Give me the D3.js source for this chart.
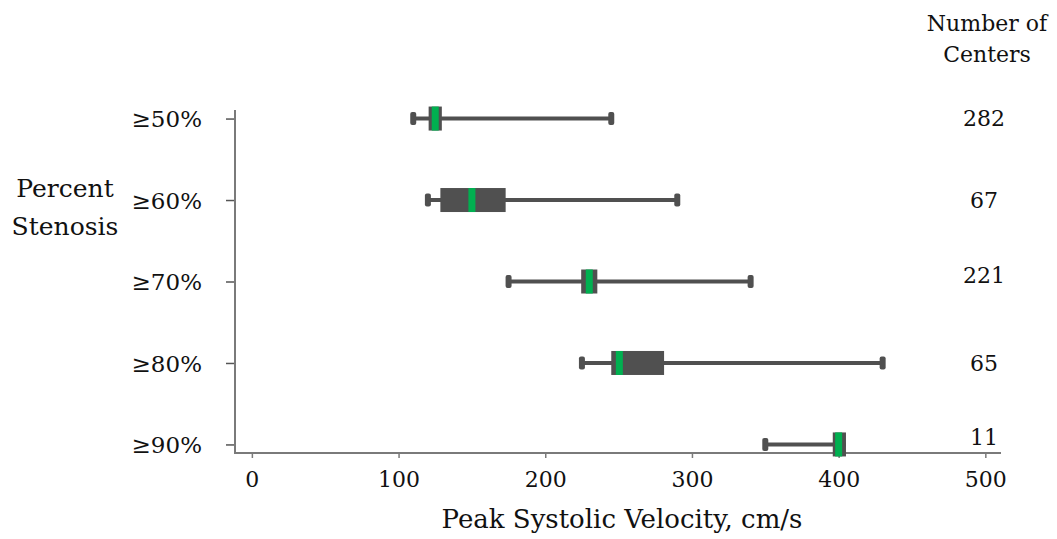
<!DOCTYPE html>
<html>
<head>
<meta charset="utf-8">
<script src="https://cdn.jsdelivr.net/npm/d3@7"></script>
<style>
  body { margin: 0; background: #fff; }
  text { font-family: 'DejaVu Serif', 'Liberation Serif', serif; fill: #111; }
</style>
</head>
<body>
<script>
// categories, top to bottom
var categories = ['≥50%', '≥60%', '≥70%', '≥80%', '≥90%'];
// box plot values, cm/s
var whiskerLow  = [110, 120, 175, 225, 350];
var q1          = [120.5, 128.5, 224.5, 245, 396];
var median      = [125, 150, 230, 250.5, 400];
var q3          = [129.5, 173, 235.5, 281, 405];
var whiskerHigh = [245, 290, 340, 430, 405];
var centers     = [282, 67, 221, 65, 11];
var xTicks      = [0, 100, 200, 300, 400, 500];

// little vertical nudges for the count labels (as in the original)
var countNudge = [0, 0, -6, 0, -7];

var W = 1057, H = 539;
var BOX = '#505050', GREEN = '#00b050', AXIS = '#7a7a7a';

var svg = d3.select('body').append('svg')
  .attr('width', W).attr('height', H);

var x = d3.scaleLinear().domain([-11.5, 510]).range([235, 1000]);
var y = d3.scalePoint().domain(categories).range([110, 453]).padding(0.105);

// ------------------------ AXES ------------------------
var xAxis = svg.append('g')
  .attr('transform', 'translate(0,453)')
  .call(d3.axisBottom(x).tickValues(xTicks).tickSize(5).tickPadding(13));
xAxis.select('.domain').remove();
xAxis.selectAll('.tick line').attr('stroke', AXIS).attr('stroke-width', 1.5);
xAxis.selectAll('.tick text').style('font-size', '22px');

var yAxis = svg.append('g')
  .attr('transform', 'translate(235,0)')
  .call(d3.axisLeft(y).tickSize(9).tickPadding(24));
yAxis.select('.domain').remove();
yAxis.selectAll('.tick line').attr('stroke', '#555').attr('stroke-width', 1.5);
yAxis.selectAll('.tick text').style('font-size', '23px').attr('dy', '0.35em');

// axis lines (L shape)
svg.append('path')
  .attr('d', 'M235,110V453H1001')
  .attr('fill', 'none')
  .attr('stroke', AXIS)
  .attr('stroke-width', 2);

// ------------------------ BOXES ------------------------
var rows = categories.map(function(c, i) {
  return { cat: c, lo: whiskerLow[i], q1: q1[i], med: median[i], q3: q3[i], hi: whiskerHigh[i] };
});

var g = svg.selectAll('.row').data(rows).enter().append('g').attr('class', 'row');

// whisker line
g.append('line')
  .attr('x1', function(d) { return x(d.lo); })
  .attr('x2', function(d) { return x(d.hi); })
  .attr('y1', function(d) { return y(d.cat); })
  .attr('y2', function(d) { return y(d.cat); })
  .attr('stroke', BOX).attr('stroke-width', 4);

// caps
g.selectAll('.cap')
  .data(function(d) { return d.hi > d.q3 ? [[d.lo, d.cat], [d.hi, d.cat]] : [[d.lo, d.cat]]; })
  .enter().append('rect')
  .attr('class', 'cap')
  .attr('x', function(p) { return x(p[0]) - 3; })
  .attr('y', function(p) { return y(p[1]) - 6.5; })
  .attr('width', 6).attr('height', 13)
  .attr('rx', 2)
  .attr('fill', BOX);

// box
g.append('rect')
  .attr('x', function(d) { return x(d.q1); })
  .attr('width', function(d) { return x(d.q3) - x(d.q1); })
  .attr('y', function(d) { return y(d.cat) - 12; })
  .attr('height', 24)
  .attr('fill', BOX);

// median
g.append('rect')
  .attr('x', function(d) { return x(d.med) - 3.5; })
  .attr('width', 7)
  .attr('y', function(d) { return y(d.cat) - 12; })
  .attr('height', 24)
  .attr('fill', GREEN);

// ------------------------ LABELS ------------------------
svg.selectAll('.count').data(centers).enter().append('text')
  .attr('class', 'count')
  .attr('x', 984)
  .attr('y', function(d, i) { return y(categories[i]) + countNudge[i]; })
  .attr('dy', '0.35em')
  .attr('text-anchor', 'middle')
  .style('font-size', '22px')
  .text(function(d) { return d; });

svg.append('text')
  .attr('x', 987).attr('y', 31)
  .attr('text-anchor', 'middle')
  .style('font-size', '22px')
  .text('Number of');
svg.append('text')
  .attr('x', 987).attr('y', 62)
  .attr('text-anchor', 'middle')
  .style('font-size', '22px')
  .text('Centers');

svg.append('text')
  .attr('x', 65).attr('y', 197)
  .attr('text-anchor', 'middle')
  .style('font-size', '25px')
  .text('Percent');
svg.append('text')
  .attr('x', 65).attr('y', 235)
  .attr('text-anchor', 'middle')
  .style('font-size', '25px')
  .text('Stenosis');

svg.append('text')
  .attr('x', 622).attr('y', 528)
  .attr('text-anchor', 'middle')
  .style('font-size', '26px')
  .text('Peak Systolic Velocity, cm/s');
</script>
</body>
</html>
